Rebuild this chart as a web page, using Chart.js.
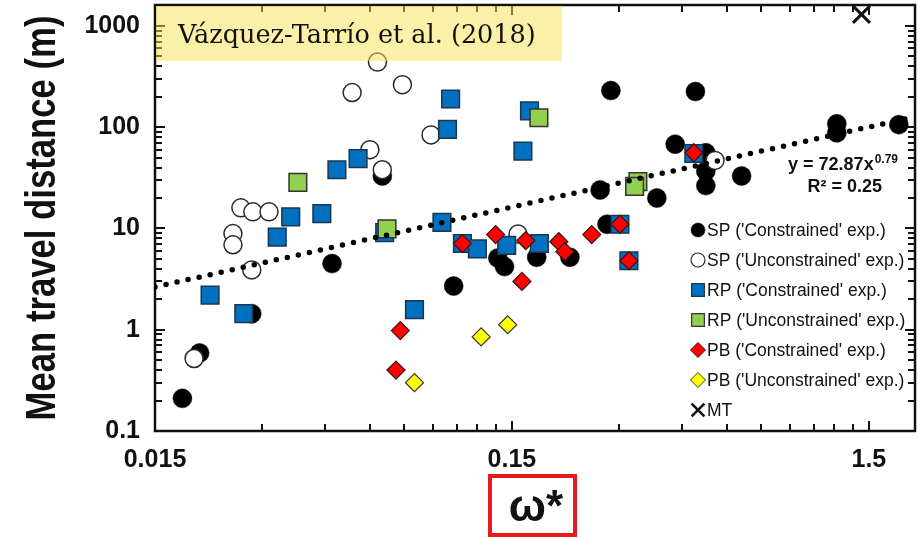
<!DOCTYPE html>
<html lang="en">
<head>
<meta charset="UTF-8" />
<title>Mean travel distance vs ω*</title>
<script src="https://cdn.jsdelivr.net/npm/chart.js"></script>
<style>
  html, body { margin: 0; padding: 0; background: #fff; }
  #wrap { position: relative; width: 919px; height: 538px; }
</style>
</head>
<body>
<div id="wrap"><canvas id="chart"></canvas></div>
<script>
// [omega*, mean travel distance (m)] for each particle group
const spConstrained = [
  [0.0179, 0.21], [0.020, 0.59], [0.028, 1.44], [0.047, 4.5], [0.065, 33],
  [0.103, 2.7], [0.137, 5.1], [0.143, 4.2], [0.176, 5.2], [0.218, 5.2],
  [0.277, 11], [0.284, 230], [0.49, 225], [0.43, 68], [0.524, 56],
  [0.524, 37], [0.524, 26.5], [0.382, 20], [0.265, 24], [0.66, 33],
  [1.22, 108], [1.22, 88], [1.82, 106]
];
const spUnconstrained = [
  [0.0193, 0.52], [0.028, 3.9], [0.0248, 8.9], [0.0248, 6.9], [0.0261, 16],
  [0.0282, 14.6], [0.0313, 14.6], [0.063, 440], [0.0535, 220], [0.074, 263],
  [0.089, 84], [0.060, 60], [0.065, 38], [0.156, 8.8], [0.556, 47]
];
const rpConstrained = [
  [0.0214, 2.2], [0.0266, 1.44], [0.033, 8.2], [0.036, 13], [0.044, 14],
  [0.0485, 38], [0.0556, 49], [0.101, 190], [0.099, 95], [0.161, 58],
  [0.168, 145], [0.066, 9.1], [0.0955, 11.5], [0.109, 7.1], [0.120, 6.3],
  [0.145, 6.8], [0.179, 7.1], [0.080, 1.58], [0.301, 11], [0.319, 4.8],
  [0.485, 55]
];
const rpUnconstrained = [
  [0.0377, 28.5], [0.067, 9.9], [0.1785, 124], [0.338, 29], [0.331, 26]
];
const pbConstrained = [
  [0.073, 0.98], [0.071, 0.40], [0.109, 7.1], [0.135, 8.7], [0.164, 7.6],
  [0.160, 3.0], [0.203, 7.4], [0.211, 5.9], [0.251, 8.7], [0.301, 11],
  [0.319, 4.8], [0.485, 56]
];
const pbUnconstrained = [[0.080, 0.30], [0.123, 0.85], [0.146, 1.12]];
const mtPoints = [[1.43, 1300]];

// power-law fit y = a * x^b
const trendA = 72.87;
const trendB = 0.79;
const trendR2 = 0.25;
const trendSpan = [0.015, 1.9];

const xMajorTicks = [0.015, 0.15, 1.5];
const yMajorTicks = [0.1, 1, 10, 100, 1000];
const xRange = [0.015, 2.02];
const yRange = [0.1, 1610];

const citation = 'Vázquez-Tarrío et al. (2018)';
const xTitle = 'ω*';
const yTitle = 'Mean travel distance (m)';

const SANS = "'Liberation Sans', Arial, sans-serif";

const toPoints = arr => arr.map(([x, y]) => ({ x, y }));
const isMajor = (v, majors) => majors.some(m => Math.abs(v - m) / m < 1e-6);

// majors plus 2..9 multiples inside each decade
function decadeTicks(majors, max) {
  const out = [];
  majors.forEach(m => {
    for (let k = 1; k <= 9; k++) {
      const v = k === 1 ? m : m * k;
      if (v <= max * 1.0001) out.push(v);
    }
  });
  return out;
}

const trendPoints = trendSpan.map(x => ({ x, y: trendA * Math.pow(x, trendB) }));

// inward tick marks on all four sides plus the frame
const frameTicks = {
  id: 'frameTicks',
  beforeDatasetsDraw(chart) {
    const { ctx, chartArea: a, scales: { x, y } } = chart;
    ctx.save();
    ctx.strokeStyle = '#111';
    ctx.lineWidth = 2;
    ctx.beginPath();
    x.ticks.forEach(t => {
      const px = Math.round(x.getPixelForValue(t.value));
      const len = isMajor(t.value, xMajorTicks) ? 10 : 7;
      ctx.moveTo(px, a.bottom); ctx.lineTo(px, a.bottom - len);
      ctx.moveTo(px, a.top); ctx.lineTo(px, a.top + len);
    });
    y.ticks.forEach(t => {
      const py = Math.round(y.getPixelForValue(t.value));
      const len = isMajor(t.value, yMajorTicks) ? 10 : 7;
      ctx.moveTo(a.left, py); ctx.lineTo(a.left + len, py);
      ctx.moveTo(a.right, py); ctx.lineTo(a.right - len, py);
    });
    ctx.stroke();
    ctx.lineWidth = 2.5;
    ctx.strokeRect(a.left, a.top, a.right - a.left, a.bottom - a.top);
    ctx.restore();
  }
};

// legend, fit equation, citation banner and both axis titles
const annotations = {
  id: 'annotations',
  afterDraw(chart) {
    const { ctx, chartArea: a } = chart;
    ctx.save();

    // legend in the lower right of the plot
    const lx = a.right - 217, ly = a.bottom - 201;
    chart.data.datasets.filter(d => d.legendRadius).forEach((d, i) => {
      const yy = ly + i * 30;
      ctx.fillStyle = d.backgroundColor;
      ctx.strokeStyle = d.borderColor;
      ctx.lineWidth = d.legendBorder;
      Chart.helpers.drawPoint(ctx, {
        pointStyle: d.pointStyle, radius: d.legendRadius, rotation: 0, borderWidth: d.legendBorder
      }, lx, yy);
      ctx.fillStyle = '#111';
      ctx.font = `17.5px ${SANS}`;
      ctx.textAlign = 'left';
      ctx.textBaseline = 'middle';
      ctx.fillText(d.label, lx + 9, yy + 1);
    });

    // fit equation
    ctx.fillStyle = '#111';
    ctx.textBaseline = 'alphabetic';
    ctx.font = `bold 12px ${SANS}`;
    const sup = String(trendB);
    const supW = ctx.measureText(sup).width;
    const eqRight = a.right - 17;
    ctx.textAlign = 'left';
    ctx.fillText(sup, eqRight - supW, 163);
    ctx.font = `bold 18px ${SANS}`;
    ctx.textAlign = 'right';
    ctx.fillText(`y = ${trendA}x`, eqRight - supW - 1, 170);
    ctx.fillText(`R² = ${trendR2}`, a.right - 33, 192);

    // citation banner
    ctx.fillStyle = 'rgba(245, 225, 80, 0.5)';
    ctx.fillRect(a.left + 1, a.top + 1, 406, 55);
    ctx.fillStyle = '#111';
    ctx.font = "25.5px 'DejaVu Serif', 'Liberation Serif', serif";
    ctx.textAlign = 'left';
    ctx.fillText(citation, a.left + 23, 43);

    // x title in a red box
    ctx.strokeStyle = '#e8191c';
    ctx.lineWidth = 4;
    ctx.strokeRect(490, 476, 85, 59);
    ctx.fillStyle = '#111';
    ctx.font = `bold 44px ${SANS}`;
    ctx.textAlign = 'center';
    ctx.fillText(xTitle, 536, 521);

    // y title, narrow bold, reading bottom to top
    ctx.save();
    ctx.translate(55, (a.top + a.bottom) / 2);
    ctx.rotate(-Math.PI / 2);
    ctx.scale(0.826, 1);
    ctx.font = `bold 42px ${SANS}`;
    ctx.textAlign = 'center';
    ctx.textBaseline = 'alphabetic';
    ctx.fillText(yTitle, 0, 0);
    ctx.restore();

    ctx.restore();
  }
};

const xTicks = decadeTicks(xMajorTicks, xRange[1]);
const yTicks = decadeTicks(yMajorTicks, yRange[1]);

new Chart(document.getElementById('chart'), {
  type: 'scatter',
  data: {
    datasets: [
      { label: "SP ('Constrained' exp.)", data: toPoints(spConstrained), order: 7,
        pointStyle: 'circle', pointRadius: 9.5, backgroundColor: '#000', borderColor: '#000', borderWidth: 0.5,
        legendRadius: 7, legendBorder: 0.5 },
      { label: "SP ('Unconstrained' exp.)", data: toPoints(spUnconstrained), order: 6,
        pointStyle: 'circle', pointRadius: 9, backgroundColor: '#fff', borderColor: '#2a2a2a', borderWidth: 1.5,
        legendRadius: 7, legendBorder: 1.2 },
      { label: "RP ('Constrained' exp.)", data: toPoints(rpConstrained), order: 5,
        pointStyle: 'rect', pointRadius: 12.5, backgroundColor: '#0070c0', borderColor: '#1c3550', borderWidth: 1.5,
        legendRadius: 9, legendBorder: 1.2 },
      { label: "RP ('Unconstrained' exp.)", data: toPoints(rpUnconstrained), order: 4,
        pointStyle: 'rect', pointRadius: 12.5, backgroundColor: '#92d050', borderColor: '#333', borderWidth: 1.5,
        legendRadius: 9, legendBorder: 1.2 },
      { label: "PB ('Constrained' exp.)", data: toPoints(pbConstrained), order: 3,
        pointStyle: 'rectRot', pointRadius: 9, backgroundColor: '#ff0000', borderColor: '#3a1414', borderWidth: 1.2,
        legendRadius: 7.5, legendBorder: 1 },
      { label: "PB ('Unconstrained' exp.)", data: toPoints(pbUnconstrained), order: 2,
        pointStyle: 'rectRot', pointRadius: 9, backgroundColor: '#ffff00', borderColor: '#333', borderWidth: 1.2,
        legendRadius: 7.5, legendBorder: 1 },
      { label: 'MT', data: toPoints(mtPoints), order: 1,
        pointStyle: 'crossRot', pointRadius: 12, backgroundColor: '#111', borderColor: '#111', borderWidth: 3,
        legendRadius: 9, legendBorder: 2.5 },
      { label: 'fit', data: trendPoints, order: 0, showLine: true, pointRadius: 0,
        borderColor: '#000', borderWidth: 5.5, borderDash: [0, 11.3], borderCapStyle: 'round', fill: false }
    ]
  },
  options: {
    responsive: true,
    maintainAspectRatio: false,
    animation: false,
    events: [],
    layout: { autoPadding: false, padding: { left: 0, top: 5, right: 4, bottom: 0 } },
    plugins: { legend: { display: false }, tooltip: { enabled: false } },
    scales: {
      x: {
        type: 'logarithmic', min: xRange[0], max: xRange[1],
        grid: { display: false, drawTicks: false },
        border: { display: false },
        afterBuildTicks: s => { s.ticks = xTicks.map(v => ({ value: v })); },
        afterFit: s => {
          s.height = 107;
          s.paddingLeft = s.paddingRight = s.paddingTop = s.paddingBottom = 0;
        },
        ticks: {
          autoSkip: false, maxRotation: 0, padding: 14, color: '#111',
          font: { family: SANS, size: 25, weight: 'bold' },
          callback: v => isMajor(v, xMajorTicks) ? String(v) : ''
        }
      },
      y: {
        type: 'logarithmic', min: yRange[0], max: yRange[1],
        grid: { display: false, drawTicks: false },
        border: { display: false },
        afterBuildTicks: s => { s.ticks = yTicks.map(v => ({ value: v })); },
        afterFit: s => {
          s.width = 155;
          s.paddingLeft = s.paddingRight = s.paddingTop = s.paddingBottom = 0;
        },
        ticks: {
          autoSkip: false, padding: 15, color: '#111',
          font: { family: SANS, size: 25, weight: 'bold' },
          callback: v => isMajor(v, yMajorTicks) ? String(v) : ''
        }
      }
    }
  },
  plugins: [frameTicks, annotations]
});
</script>
</body>
</html>
